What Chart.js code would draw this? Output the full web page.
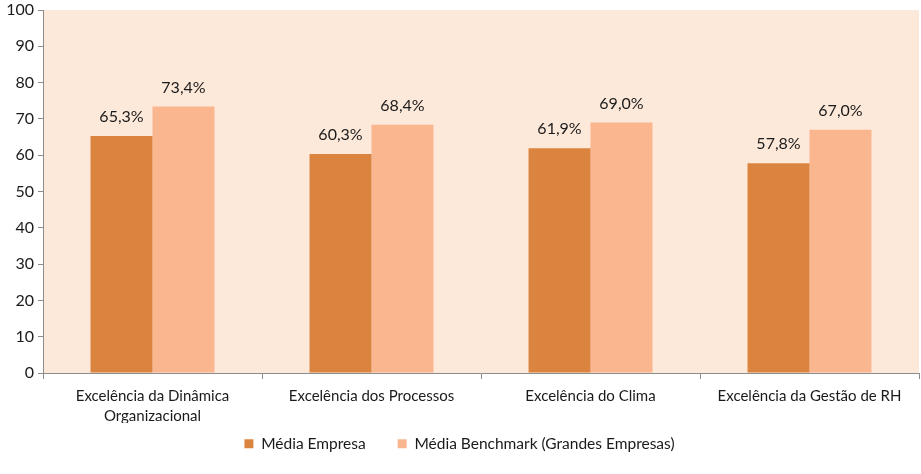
<!DOCTYPE html>
<html>
<head>
<meta charset="utf-8">
<script src="https://cdn.jsdelivr.net/npm/chart.js@4/dist/chart.umd.min.js"></script>
<style>
    html, body { margin: 0; padding: 0; background: #ffffff; }
    #wrap { width: 921px; height: 474px; }
</style>
</head>
<body>
<div id="wrap"><canvas id="myChart" width="921" height="474"></canvas></div>
<script>
const categories = [
    ['Excelência da Dinâmica', 'Organizacional'],
    'Excelência dos Processos',
    'Excelência do Clima',
    'Excelência da Gestão de RH'
];
const mediaEmpresa = [65.3, 60.3, 61.9, 57.8];
const mediaBenchmark = [73.4, 68.4, 69.0, 67.0];
const yTicks = [0, 10, 20, 30, 40, 50, 60, 70, 80, 90, 100];

const FONT = 'Lato, "Open Sans", sans-serif';

// peach background behind the plot area
const plotBackground = {
    id: 'plotBackground',
    beforeDraw(chart) {
        const { ctx, chartArea } = chart;
        ctx.save();
        ctx.fillStyle = '#FDE9DA';
        ctx.fillRect(chartArea.left, chartArea.top, chartArea.right - chartArea.left, chartArea.bottom - chartArea.top);
        ctx.restore();
    }
};

// keep the legend small and pull it up closer to the axis labels
const legendPlace = {
    id: 'legendPlace',
    beforeInit(chart) {
        const legend = chart.legend;
        if (!legend) return;
        const origFit = legend.fit;
        legend.fit = function () {
            origFit.call(this);
            this.height = 51;
        };
    },
    afterLayout(chart) {
        const legend = chart.legend;
        if (!legend) return;
        legend.top -= 19;
        legend.bottom -= 19;
    }
};

// "65,3%" style labels above each bar
const valueLabels = {
    id: 'valueLabels',
    afterDatasetsDraw(chart) {
        const ctx = chart.ctx;
        ctx.save();
        ctx.font = '16px ' + FONT;
        ctx.fillStyle = '#1a1a1a';
        ctx.textAlign = 'center';
        ctx.textBaseline = 'middle';
        chart.data.datasets.forEach((ds, i) => {
            chart.getDatasetMeta(i).data.forEach((bar, j) => {
                const txt = ds.data[j].toFixed(1).replace('.', ',') + '%';
                ctx.fillText(txt, bar.x, bar.y - 19);
            });
        });
        ctx.restore();
    }
};

const ctx = document.getElementById('myChart').getContext('2d');
const chart = new Chart(ctx, {
    type: 'bar',
    data: {
        labels: categories,
        datasets: [{
            label: 'Média Empresa',
            data: mediaEmpresa,
            backgroundColor: '#DB843F',
            barPercentage: 1.0,
            categoryPercentage: 0.566
        }, {
            label: 'Média Benchmark (Grandes Empresas)',
            data: mediaBenchmark,
            backgroundColor: '#F9B68F',
            barPercentage: 1.0,
            categoryPercentage: 0.566
        }]
    },
    options: {
        responsive: false,
        animation: false,
        layout: { padding: { left: 0, right: 2, top: 10, bottom: 0 } },
        plugins: {
            tooltip: { enabled: false },
            legend: {
                position: 'bottom',
                labels: {
                    boxWidth: 9,
                    boxHeight: 9,
                    padding: 32,
                    color: '#1a1a1a',
                    font: { family: FONT, size: 15.5 }
                }
            }
        },
        scales: {
            x: {
                border: { color: '#8c8c8c', width: 1 },
                grid: {
                    offset: true,
                    drawOnChartArea: false,
                    tickLength: 6,
                    color: '#8c8c8c'
                },
                ticks: {
                    color: '#1a1a1a',
                    padding: 7,
                    maxRotation: 0,
                    autoSkip: false,
                    font: { family: FONT, size: 15, lineHeight: 1.33 }
                },
                afterFit(scale) {
                    scale.height = 50;
                }
            },
            y: {
                min: 0,
                max: 100,
                afterBuildTicks(axis) {
                    axis.ticks = yTicks.map(v => ({ value: v }));
                },
                border: { color: '#8c8c8c', width: 1 },
                grid: {
                    drawOnChartArea: false,
                    tickLength: 5,
                    color: '#8c8c8c'
                },
                ticks: {
                    color: '#1a1a1a',
                    padding: 4,
                    font: { family: FONT, size: 16 }
                },
                afterFit(scale) {
                    scale.width = 43;
                    scale.paddingTop = 0;
                    scale.paddingBottom = 0;
                }
            }
        }
    },
    plugins: [plotBackground, legendPlace, valueLabels]
});
</script>
</body>
</html>
